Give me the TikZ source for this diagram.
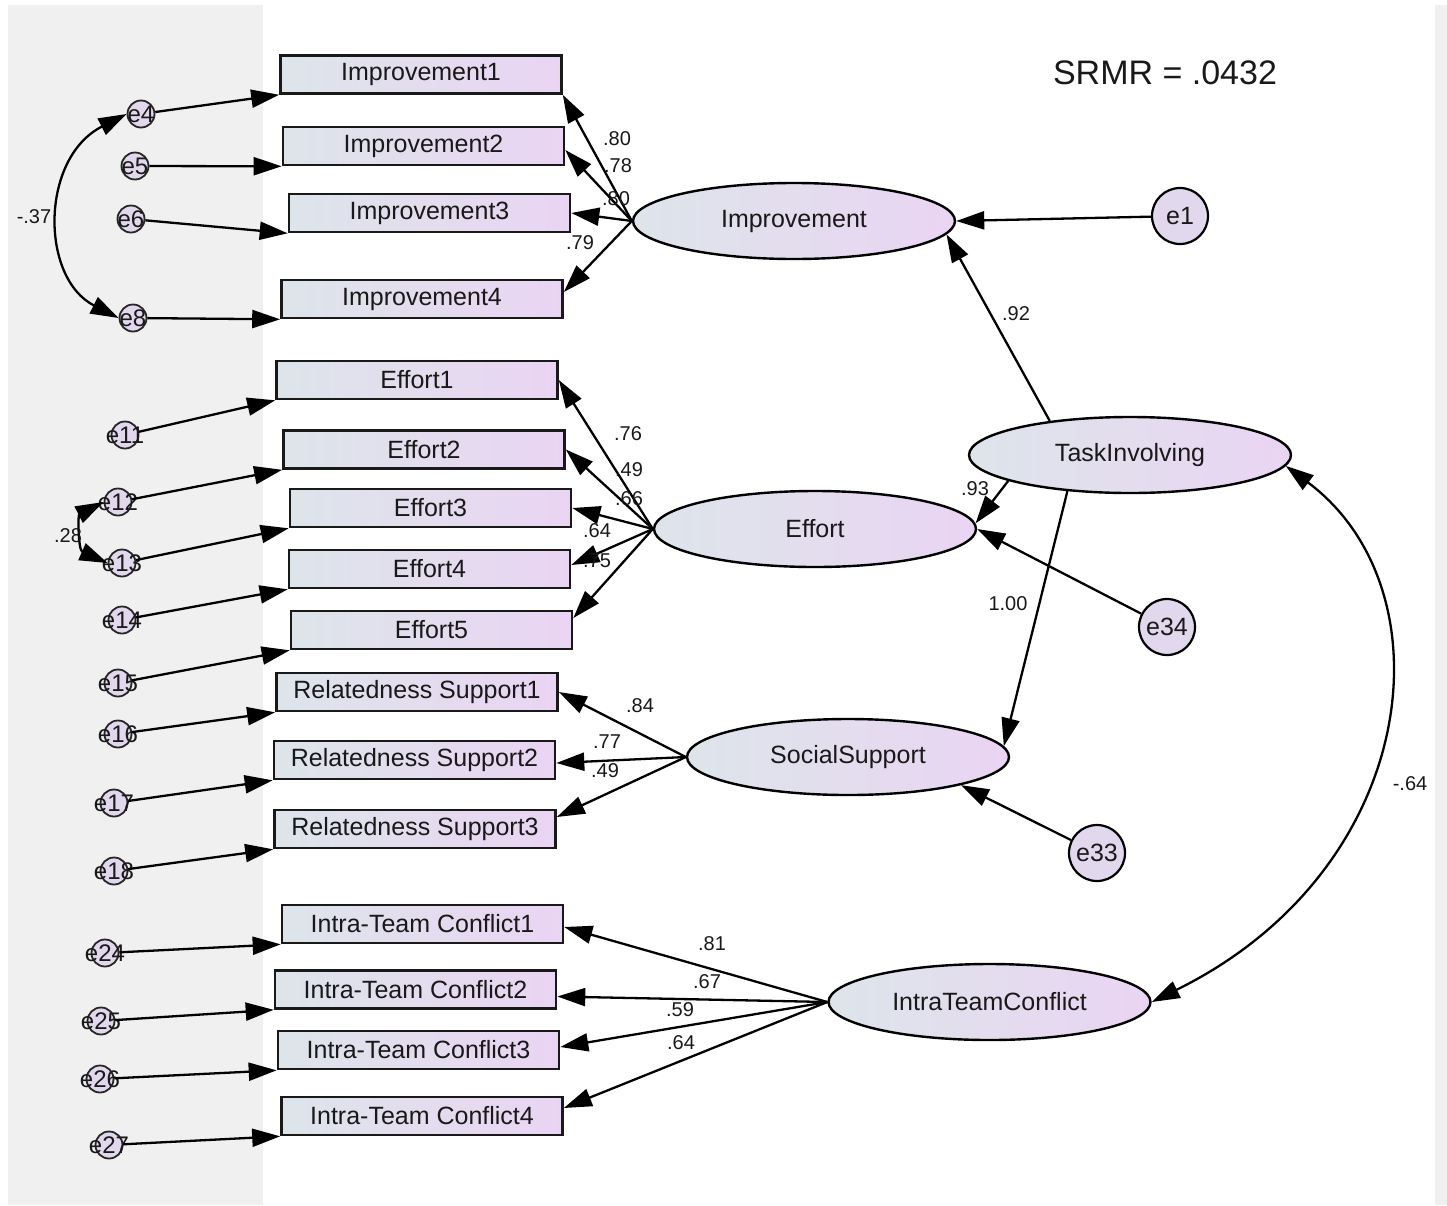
\documentclass[tikz,border=0pt]{standalone}
\usepackage{fontspec}
\setmainfont{Liberation Sans}
\usetikzlibrary{arrows.meta,shapes.geometric}

\definecolor{panel}{RGB}{240,240,240}
\definecolor{shadeL}{RGB}{221,229,234}
\definecolor{shadeR}{RGB}{234,212,243}
\definecolor{errfill}{RGB}{226,216,238}
\definecolor{ink}{RGB}{25,25,25}

\begin{document}
\begin{tikzpicture}[x=1pt,y=-1pt,
  every node/.style={font=\fontsize{25}{30}\selectfont, text=ink},
  obs/.style={rectangle, draw=ink, line width=2.6pt, minimum width=281pt,
    minimum height=38pt, inner sep=0pt, left color=shadeL, right color=shadeR},
  lat/.style={ellipse, draw=black, line width=2.4pt, minimum width=322pt,
    minimum height=76pt, inner sep=0pt, left color=shadeL, right color=shadeR},
  errs/.style={circle, draw=black!85, line width=1.8pt, minimum size=27pt,
    inner sep=0pt, fill=errfill,
    label={[font=\fontsize{24}{28}\selectfont, text=ink]center:#1}},
  errb/.style={circle, draw=black, line width=2.2pt, minimum size=56pt,
    inner sep=0pt, fill=errfill},
  load/.style={line width=2.3pt, -{Triangle[length=28pt,width=18pt]}},
  cov/.style={line width=2.3pt,
    {Triangle[length=28pt,width=18pt]}-{Triangle[length=28pt,width=18pt]}},
  coef/.style={font=\fontsize{20}{23}\selectfont, text=ink, inner sep=0pt}
]
\useasboundingbox (0,0) rectangle (1447,1205);
\fill[white] (0,0) rectangle (1447,1205);
% grey margin panels
\fill[panel] (8,5) rectangle (263,1205);
\fill[panel] (1435,5) rectangle (1447,1205);

% observed indicators
\node[obs] (imp1) at (421,74.5) {Improvement1};
\node[obs] (imp2) at (423.5,146) {Improvement2};
\node[obs] (imp3) at (429.5,213) {Improvement3};
\node[obs] (imp4) at (422,299) {Improvement4};
\node[obs] (eff1) at (417,380) {Effort1};
\node[obs] (eff2) at (424,449.5) {Effort2};
\node[obs] (eff3) at (430.5,508) {Effort3};
\node[obs] (eff4) at (429.5,569) {Effort4};
\node[obs] (eff5) at (431.5,630) {Effort5};
\node[obs] (rs1) at (417,692) {Relatedness Support1};
\node[obs] (rs2) at (414.5,760) {Relatedness Support2};
\node[obs] (rs3) at (415,829) {Relatedness Support3};
\node[obs] (itc1) at (422.5,924) {Intra-Team Conflict1};
\node[obs] (itc2) at (415.5,989.5) {Intra-Team Conflict2};
\node[obs] (itc3) at (418.5,1050) {Intra-Team Conflict3};
\node[obs] (itc4) at (422,1116) {Intra-Team Conflict4};

% latent factors
\node[lat] (imp) at (794,221) {Improvement};
\node[lat] (eff) at (815,529) {Effort};
\node[lat] (ss) at (848,757) {SocialSupport};
\node[lat] (ti) at (1130,455) {TaskInvolving};
\node[lat] (itc) at (989.5,1002) {IntraTeamConflict};

% disturbances
\node[errb] (e1) at (1180,216) {e1};
\node[errb] (e34) at (1167,627) {e34};
\node[errb] (e33) at (1097,853) {e33};

% measurement errors
\node[errs=e4] (e4) at (141,114) {};
\node[errs=e5] (e5) at (135,166) {};
\node[errs=e6] (e6) at (131,219) {};
\node[errs=e8] (e8) at (133,318) {};
\node[errs=e11] (e11) at (125,435) {};
\node[errs=e12] (e12) at (118,502) {};
\node[errs=e13] (e13) at (122,563) {};
\node[errs=e14] (e14) at (122,620) {};
\node[errs=e15] (e15) at (118,683) {};
\node[errs=e16] (e16) at (118,734) {};
\node[errs=e17] (e17) at (114,803) {};
\node[errs=e18] (e18) at (114,871) {};
\node[errs=e24] (e24) at (105,953) {};
\node[errs=e25] (e25) at (101,1021) {};
\node[errs=e26] (e26) at (100,1079) {};
\node[errs=e27] (e27) at (109,1145) {};

% error -> indicator paths
\foreach \e/\b in {e4/imp1,e5/imp2,e6/imp3,e8/imp4,e11/eff1,e12/eff2,e13/eff3,
  e14/eff4,e15/eff5,e16/rs1,e17/rs2,e18/rs3,e24/itc1,e25/itc2,e26/itc3,e27/itc4}
  \draw[load] (\e) -- (\b.south west);

% factor loadings
\draw[load] (imp.west) -- (imp1.south east);
\draw[load] (imp.west) -- ([yshift=-4pt]imp2.east);
\draw[load] (imp.west) -- (imp3.east);
\draw[load] (imp.west) -- ([yshift=7pt]imp4.east);
\draw[load] (eff.west) -- (eff1.east);
\draw[load] (eff.west) -- (eff2.east);
\draw[load] (eff.west) -- (eff3.east);
\draw[load] (eff.west) -- ([yshift=4pt]eff4.east);
\draw[load] (eff.west) -- ([yshift=12pt]eff5.east);
\draw[load] (ss.west) -- (rs1.east);
\draw[load] (ss.west) -- ([yshift=-3pt]rs2.east);
\draw[load] (ss.west) -- ([yshift=12pt]rs3.east);
\draw[load] (itc.west) -- ([yshift=-3pt]itc1.east);
\draw[load] (itc.west) -- ([yshift=-7pt]itc2.east);
\draw[load] (itc.west) -- ([yshift=3pt]itc3.east);
\draw[load] (itc.west) -- ([yshift=8pt]itc4.east);

% structural paths and disturbances
\draw[load] (ti.157) -- (imp.-5);
\draw[load] (ti.192) -- (eff.2);
\draw[load] (ti.210) -- (ss.4.5);
\draw[load] (e1) -- (imp.east);
\draw[load] (e34) -- (eff.east);
\draw[load] (e33) -- (ss.-14);

% covariances
\draw[cov] (ti.-4) .. controls (1452,590) and (1420,870) .. (itc.east);
\draw[cov] (e4.west) .. controls (40,158) and (40,278) .. (e8.west);
\draw[cov] (e12.west) .. controls (78,515) and (78,550) .. (e13.west);

% coefficients
\node[coef] (c1) at (617,139) {.80};
\node[coef] (c2) at (618,166) {.78};
\node[coef] (c3) at (616,199) {.80};
\node[coef] (c4) at (580,243) {.79};
\node[coef] (c5) at (628,434) {.76};
\node[coef] (c6) at (629,470) {.49};
\node[coef] (c7) at (629,499) {.66};
\node[coef] (c8) at (597,531) {.64};
\node[coef] (c9) at (597,561) {.75};
\node[coef] (c10) at (640,706) {.84};
\node[coef] (c11) at (607,742) {.77};
\node[coef] (c12) at (605,771) {.49};
\node[coef] (c13) at (712,944) {.81};
\node[coef] (c14) at (707,982) {.67};
\node[coef] (c15) at (680,1010) {.59};
\node[coef] (c16) at (681,1043) {.64};
\node[coef] (c17) at (1016,314) {.92};
\node[coef] (c18) at (975,489) {.93};
\node[coef] (c19) at (1008,604) {1.00};
\node[coef] (c20) at (1410,784) {-.64};
\node[coef] (c21) at (34,217) {-.37};
\node[coef] (c22) at (68,536) {.28};

% fit index
\node[font=\fontsize{34}{40}\selectfont] (srmr) at (1165,73) {SRMR = .0432};
\end{tikzpicture}
\end{document}
